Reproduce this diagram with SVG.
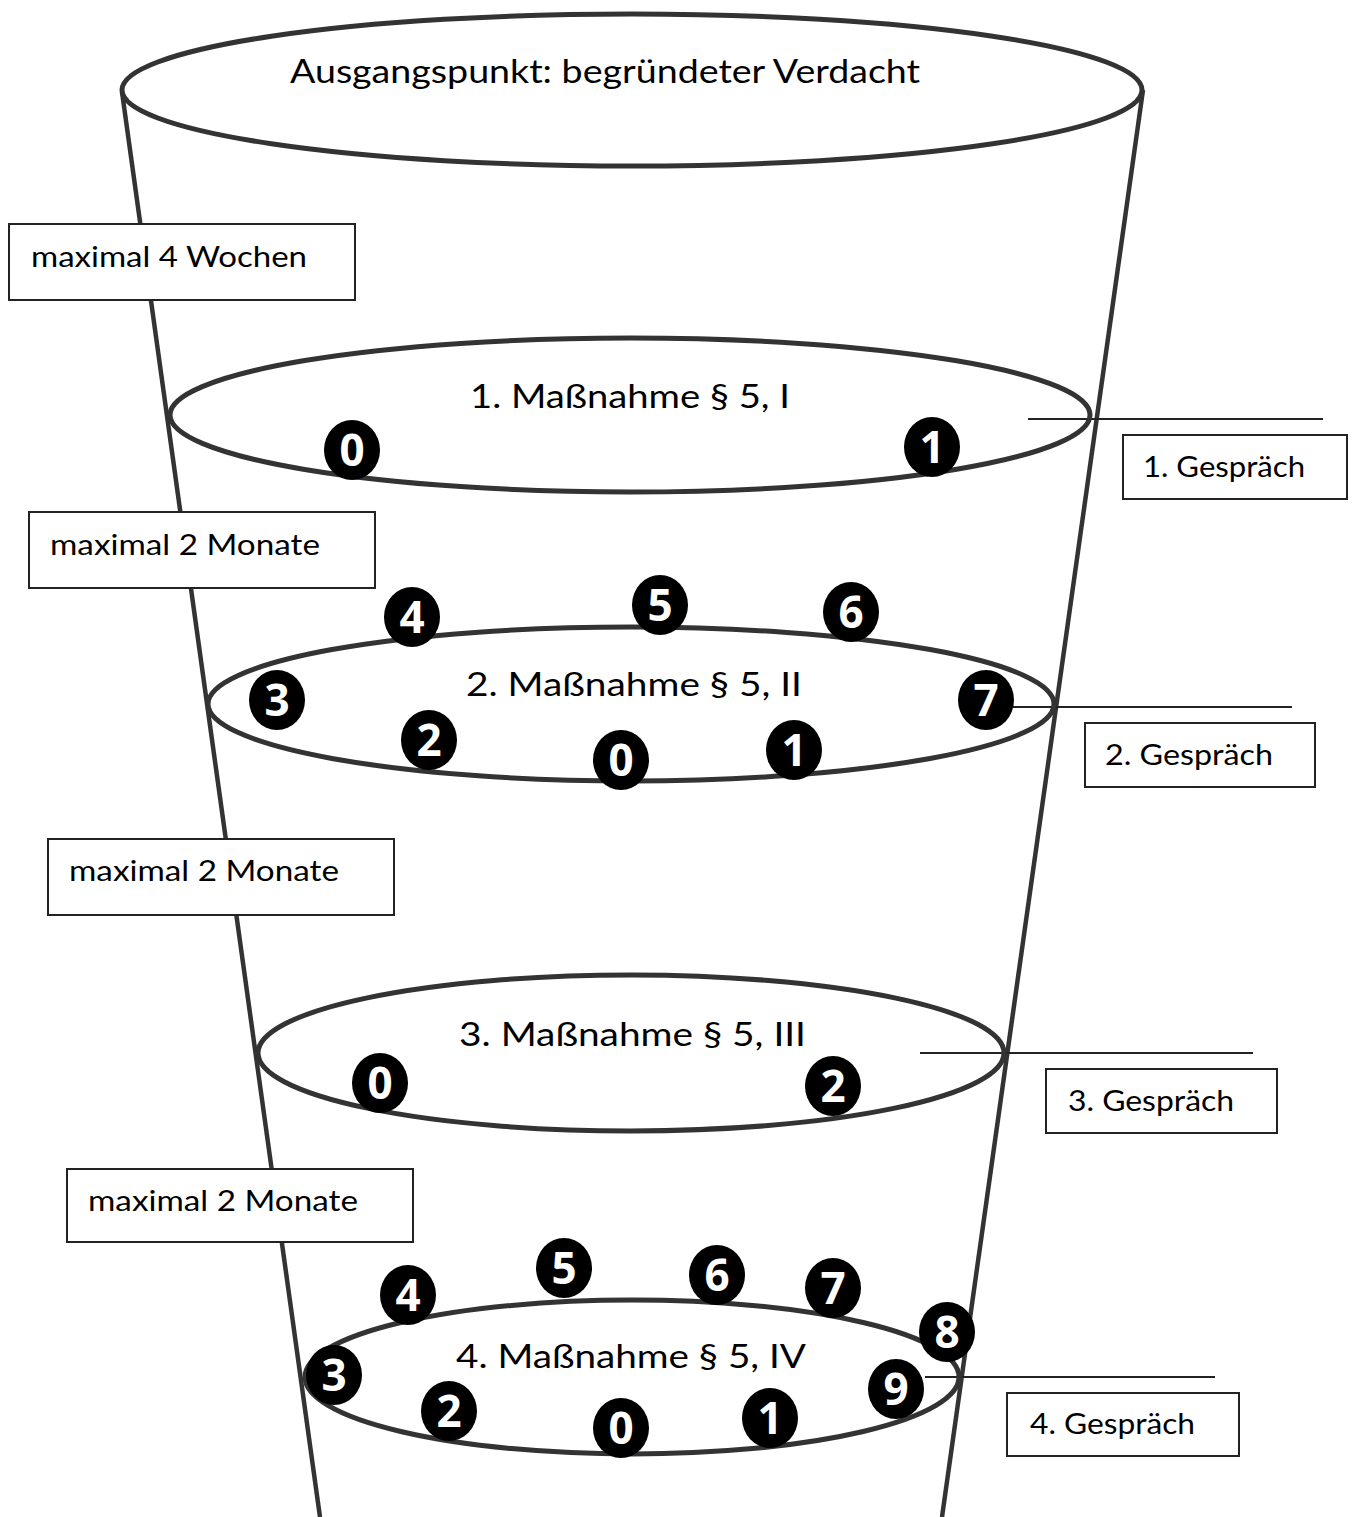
<svg xmlns="http://www.w3.org/2000/svg" width="1356" height="1517" viewBox="0 0 1356 1517">
<style>
.ring{fill:none;stroke:#333;stroke-width:5}
.side{fill:none;stroke:#333;stroke-width:4.5}
.hl{stroke:#222;stroke-width:2}
.box{fill:#fff;stroke:#222;stroke-width:2}
.t{font-family:Lato,"Open Sans","Liberation Sans",sans-serif;font-size:33px;fill:#000}
.bt{font-family:Lato,"Open Sans","Liberation Sans",sans-serif;font-size:29px;fill:#000}
.dot{fill:#000}
.num{font-family:"Open Sans","Liberation Sans",sans-serif;font-weight:bold;font-size:44px;fill:#fff;text-anchor:middle}
</style>
<rect width="1356" height="1517" fill="#fff"/>
<g id="funnel">
<line class="side" x1="122" y1="92" x2="320" y2="1517"/>
<line class="side" x1="1143" y1="90" x2="942" y2="1517"/>
</g>
<g id="top">
<ellipse class="ring" cx="632" cy="90" rx="510" ry="76" fill="#fff"/>
<text class="t" x="290" y="83" textLength="630" lengthAdjust="spacingAndGlyphs">Ausgangspunkt: begründeter Verdacht</text>
</g>
<g id="connectors">
<line class="hl" x1="1028" y1="419" x2="1323" y2="419"/>
<line class="hl" x1="1010" y1="707" x2="1292" y2="707"/>
<line class="hl" x1="920" y1="1053" x2="1253" y2="1053"/>
<line class="hl" x1="925" y1="1377" x2="1215" y2="1377"/>
</g>
<g id="m1">
<ellipse class="ring" cx="630" cy="415" rx="460" ry="77"/>
<text class="t" x="470" y="408" textLength="320" lengthAdjust="spacingAndGlyphs">1. Maßnahme § 5, I</text>
<ellipse class="dot" cx="352" cy="450" rx="28" ry="30"/><text class="num" x="352" y="466">0</text>
<ellipse class="dot" cx="932" cy="447" rx="28" ry="30"/><text class="num" x="932" y="463">1</text>
</g>
<g id="m2">
<ellipse class="ring" cx="631" cy="704" rx="423" ry="77"/>
<text class="t" x="466" y="696" textLength="336" lengthAdjust="spacingAndGlyphs">2. Maßnahme § 5, II</text>
<ellipse class="dot" cx="412" cy="617" rx="28" ry="30"/><text class="num" x="412" y="633">4</text>
<ellipse class="dot" cx="660" cy="605" rx="28" ry="30"/><text class="num" x="660" y="621">5</text>
<ellipse class="dot" cx="851" cy="612" rx="28" ry="30"/><text class="num" x="851" y="628">6</text>
<ellipse class="dot" cx="277" cy="700" rx="28" ry="30"/><text class="num" x="277" y="716">3</text>
<ellipse class="dot" cx="986" cy="700" rx="28" ry="30"/><text class="num" x="986" y="716">7</text>
<ellipse class="dot" cx="429" cy="740" rx="28" ry="30"/><text class="num" x="429" y="756">2</text>
<ellipse class="dot" cx="621" cy="760" rx="28" ry="30"/><text class="num" x="621" y="776">0</text>
<ellipse class="dot" cx="794" cy="750" rx="28" ry="30"/><text class="num" x="794" y="766">1</text>
</g>
<g id="m3">
<ellipse class="ring" cx="631" cy="1053" rx="373" ry="78"/>
<text class="t" x="459" y="1046" textLength="347" lengthAdjust="spacingAndGlyphs">3. Maßnahme § 5, III</text>
<ellipse class="dot" cx="380" cy="1083" rx="28" ry="30"/><text class="num" x="380" y="1099">0</text>
<ellipse class="dot" cx="833" cy="1086" rx="28" ry="30"/><text class="num" x="833" y="1102">2</text>
</g>
<g id="m4">
<ellipse class="ring" cx="632" cy="1377" rx="327" ry="77"/>
<text class="t" x="456" y="1368" textLength="350" lengthAdjust="spacingAndGlyphs">4. Maßnahme § 5, IV</text>
<ellipse class="dot" cx="408" cy="1295" rx="28" ry="30"/><text class="num" x="408" y="1311">4</text>
<ellipse class="dot" cx="564" cy="1268" rx="28" ry="30"/><text class="num" x="564" y="1284">5</text>
<ellipse class="dot" cx="717" cy="1275" rx="28" ry="30"/><text class="num" x="717" y="1291">6</text>
<ellipse class="dot" cx="833" cy="1288" rx="28" ry="30"/><text class="num" x="833" y="1304">7</text>
<ellipse class="dot" cx="947" cy="1332" rx="28" ry="30"/><text class="num" x="947" y="1348">8</text>
<ellipse class="dot" cx="334" cy="1375" rx="28" ry="30"/><text class="num" x="334" y="1391">3</text>
<ellipse class="dot" cx="896" cy="1389" rx="28" ry="30"/><text class="num" x="896" y="1405">9</text>
<ellipse class="dot" cx="449" cy="1411" rx="28" ry="30"/><text class="num" x="449" y="1427">2</text>
<ellipse class="dot" cx="621" cy="1428" rx="28" ry="30"/><text class="num" x="621" y="1444">0</text>
<ellipse class="dot" cx="770" cy="1418" rx="28" ry="30"/><text class="num" x="770" y="1434">1</text>
</g>
<g id="d1"><rect class="box" x="9" y="224" width="346" height="76"/><text class="bt" x="31" y="267" textLength="276" lengthAdjust="spacingAndGlyphs">maximal 4 Wochen</text></g>
<g id="d2"><rect class="box" x="29" y="512" width="346" height="76"/><text class="bt" x="50" y="555" textLength="270" lengthAdjust="spacingAndGlyphs">maximal 2 Monate</text></g>
<g id="d3"><rect class="box" x="48" y="839" width="346" height="76"/><text class="bt" x="69" y="881" textLength="270" lengthAdjust="spacingAndGlyphs">maximal 2 Monate</text></g>
<g id="d4"><rect class="box" x="67" y="1169" width="346" height="73"/><text class="bt" x="88" y="1211" textLength="270" lengthAdjust="spacingAndGlyphs">maximal 2 Monate</text></g>
<g id="g1"><rect class="box" x="1123" y="435" width="224" height="64"/><text class="bt" x="1143" y="477" textLength="162" lengthAdjust="spacingAndGlyphs">1. Gespräch</text></g>
<g id="g2"><rect class="box" x="1085" y="723" width="230" height="64"/><text class="bt" x="1105" y="765" textLength="168" lengthAdjust="spacingAndGlyphs">2. Gespräch</text></g>
<g id="g3"><rect class="box" x="1046" y="1069" width="231" height="64"/><text class="bt" x="1068" y="1111" textLength="166" lengthAdjust="spacingAndGlyphs">3. Gespräch</text></g>
<g id="g4"><rect class="box" x="1007" y="1393" width="232" height="63"/><text class="bt" x="1030" y="1434" textLength="165" lengthAdjust="spacingAndGlyphs">4. Gespräch</text></g>
</svg>
